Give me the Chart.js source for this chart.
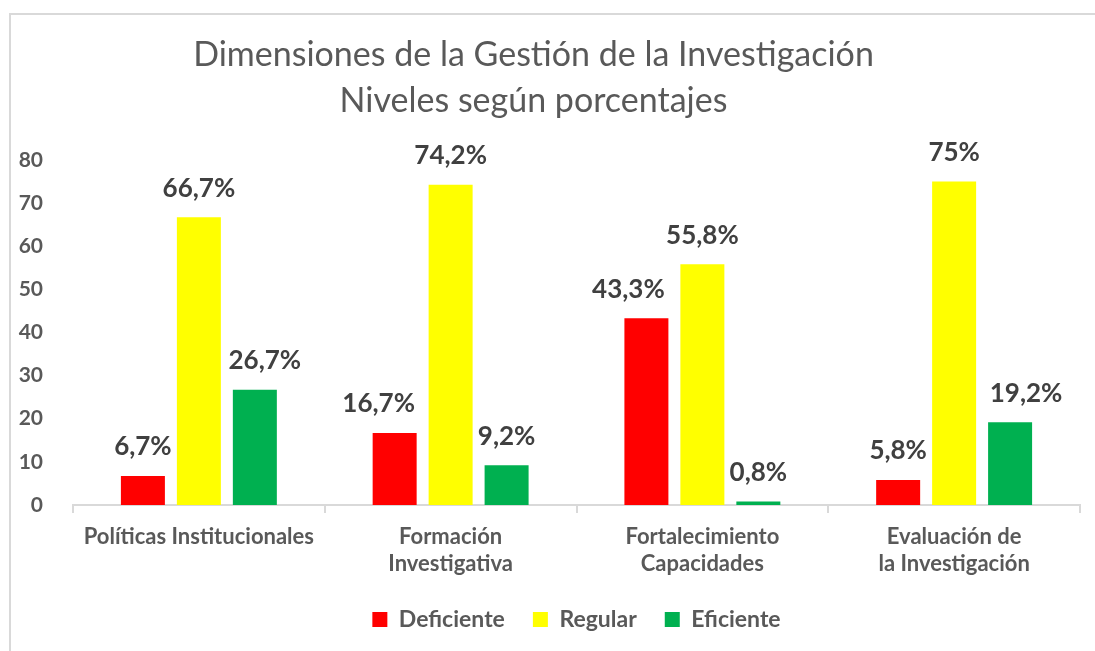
<!DOCTYPE html>
<html>
<head>
<meta charset="utf-8">
<script src="https://cdn.jsdelivr.net/npm/chart.js@4"></script>
<style>
  html, body { margin: 0; padding: 0; background: #fff; }
  #wrap { position: relative; width: 1095px; height: 651px; overflow: hidden; }
  #frame { position: absolute; left: 9px; top: 13px; width: 1200px; height: 800px; border: 2px solid #d9d9d9; box-sizing: border-box; }
  canvas { position: absolute; left: 0; top: 0; }
</style>
</head>
<body>
<div id="wrap">
  <div id="frame"></div>
  <canvas id="chart" width="1095" height="651"></canvas>
</div>
<script>
// categorías y series (porcentajes)
const categories = [
  ['Políticas Institucionales'],
  ['Formación', 'Investigativa'],
  ['Fortalecimiento', 'Capacidades'],
  ['Evaluación de', 'la Investigación']
];
const deficiente = [6.7, 16.7, 43.3, 5.8];
const regular = [66.7, 74.2, 55.8, 75];
const eficiente = [26.7, 9.2, 0.8, 19.2];
const yTicks = [0, 10, 20, 30, 40, 50, 60, 70, 80];
const titleLines = ['Dimensiones de la Gestión de la Investigación', 'Niveles según porcentajes'];

const FONT = 'Lato, "Open Sans", sans-serif';
const TITLE_SHIFT = -11; // el título original está algo a la izquierda del centro

// desplazamiento horizontal de algunas etiquetas (como en el original)
const labelNudge = [
  [0, -16, -18, 0],
  [0, 0, 0, 0],
  [10, 0, 0, 16]
];

const fmt = v => String(v).replace('.', ',') + '%';

// valores sobre las barras + título desplazado
const valueLabels = {
  id: 'valueLabels',
  afterDatasetsDraw(chart) {
    const ctx = chart.ctx;
    ctx.save();
    ctx.font = 'bold 26px ' + FONT;
    ctx.fillStyle = '#404040';
    ctx.textAlign = 'center';
    ctx.textBaseline = 'middle';
    chart.data.datasets.forEach((ds, di) => {
      const meta = chart.getDatasetMeta(di);
      meta.data.forEach((bar, i) => {
        ctx.fillText(fmt(ds.data[i]), bar.x + labelNudge[di][i], bar.y - 29);
      });
    });
    ctx.restore();
  },
  afterDraw(chart) {
    const tb = chart.titleBlock;
    if (!tb) return;
    const ctx = chart.ctx;
    const size = 34, lh = size * 1.35;
    ctx.save();
    ctx.font = 'normal ' + size + 'px ' + FONT;
    ctx.fillStyle = '#595959';
    ctx.textAlign = 'center';
    ctx.textBaseline = 'middle';
    const cx = (tb.left + tb.right) / 2 + TITLE_SHIFT;
    const top = tb.top + 18;
    titleLines.forEach((t, i) => ctx.fillText(t, cx, top + lh * i + lh / 2));
    ctx.restore();
  }
};

new Chart(document.getElementById('chart'), {
  type: 'bar',
  data: {
    labels: categories,
    datasets: [
      { label: 'Deficiente', data: deficiente, backgroundColor: '#FF0000' },
      { label: 'Regular', data: regular, backgroundColor: '#FFFF00' },
      { label: 'Eficiente', data: eficiente, backgroundColor: '#00B050' }
    ]
  },
  options: {
    responsive: false,
    animation: false,
    categoryPercentage: 0.667,
    barPercentage: 0.786,
    layout: { padding: { left: 9, right: 15, top: 14, bottom: 10 } },
    plugins: {
      title: {
        display: true,
        text: titleLines,
        color: 'rgba(0,0,0,0)', // se dibuja en afterDraw
        font: { family: FONT, size: 34, weight: 'normal', lineHeight: 1.35 },
        padding: { top: 18, bottom: 36 }
      },
      legend: {
        position: 'bottom',
        fullSize: false,
        labels: {
          color: '#595959',
          font: { family: FONT, size: 23, weight: 'bold' },
          boxWidth: 15,
          boxHeight: 15,
          padding: 28
        }
      },
      tooltip: { enabled: false }
    },
    scales: {
      x: {
        afterFit(scale) { scale.height = 75; },
        grid: { drawOnChartArea: false, drawTicks: true, tickLength: 8, color: '#d9d9d9', lineWidth: 2 },
        border: { color: '#d9d9d9', width: 2 },
        ticks: {
          color: '#595959',
          font: { family: FONT, size: 22, weight: 'bold', lineHeight: 1.25 },
          padding: 10,
          maxRotation: 0,
          autoSkip: false
        }
      },
      y: {
        min: 0,
        max: 80,
        afterBuildTicks(scale) { scale.ticks = yTicks.map(v => ({ value: v })); },
        afterFit(scale) { scale.width = 64; },
        grid: { display: false },
        border: { display: false },
        ticks: {
          color: '#595959',
          font: { family: FONT, size: 21, weight: 'bold' },
          padding: 22
        }
      }
    }
  },
  plugins: [valueLabels]
});
</script>
</body>
</html>
